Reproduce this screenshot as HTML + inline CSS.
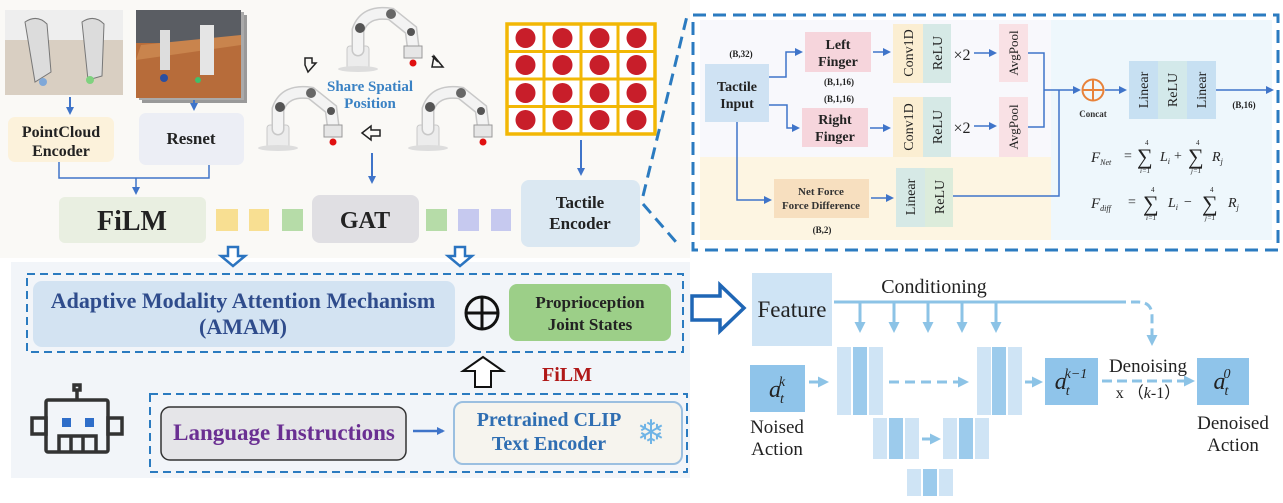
<!DOCTYPE html>
<html><head><meta charset="utf-8"><style>
html,body{margin:0;padding:0;background:#fff;}
svg{display:block;font-family:"Liberation Serif",serif;}
</style></head><body>
<svg width="1283" height="503" viewBox="0 0 1283 503" xmlns="http://www.w3.org/2000/svg">
<defs>
<marker id="ab" markerWidth="8" markerHeight="8" refX="6" refY="4" orient="auto" markerUnits="userSpaceOnUse"><path d="M0,0 L8,4 L0,8 Z" fill="#3f74c9"/></marker>
<marker id="al" markerWidth="11" markerHeight="11" refX="8" refY="5.5" orient="auto" markerUnits="userSpaceOnUse"><path d="M0,0 L11,5.5 L0,11 Z" fill="#8cc3e6"/></marker>
<g id="robot">
  <rect x="14" y="40" width="22" height="24" rx="3" fill="#ececec" stroke="#c9c9c9"/>
  <ellipse cx="25" cy="63" rx="20" ry="3" fill="#ddd"/>
  <path d="M25,44 L25,24 Q32,4 58,8 L78,24 L80,40" fill="none" stroke="#c8c8c8" stroke-width="13" stroke-linecap="round"/>
  <path d="M25,44 L25,24 Q32,4 58,8 L78,24 L80,40" fill="none" stroke="#f3f3f3" stroke-width="10" stroke-linecap="round"/>
  <circle cx="27" cy="22" r="5" fill="#555"/>
  <circle cx="58" cy="8" r="5" fill="#666"/>
  <circle cx="78" cy="26" r="4" fill="#555"/>
  <rect x="71" y="40" width="18" height="12" fill="#e6e6e6" stroke="#999"/>
  <circle cx="80" cy="57" r="3.5" fill="#e01010"/>
</g>
</defs>

<rect x="0" y="0" width="690" height="258" fill="#faf9f6"/>
<rect x="11" y="262" width="679" height="216" fill="#f2f5f9"/>

<!-- top left images -->
<rect x="5" y="10" width="118" height="85" fill="#d9cfc2"/>
<path d="M5,10 h118 v30 h-118z" fill="#eeeeee"/>
<path d="M25,22 q12,-8 22,2 l4,48 -16,10z" fill="#dcdcdc" stroke="#777"/>
<path d="M82,22 q12,-8 22,2 l-2,52 -14,4z" fill="#dcdcdc" stroke="#777"/>
<circle cx="43" cy="82" r="4" fill="#7fa8d8"/><circle cx="90" cy="80" r="4" fill="#7fd27f"/>
<rect x="142" y="15" width="105" height="88" fill="#999"/>
<rect x="139" y="12" width="105" height="88" fill="#aaa"/>
<rect x="136" y="10" width="105" height="88" fill="#b76c3a"/>
<rect x="136" y="10" width="105" height="33" fill="#5a5d63"/>
<path d="M141,45 L241,35 L241,45 L136,60z" fill="#c9844d"/>
<rect x="160" y="30" width="10" height="40" fill="#ddd"/><rect x="200" y="25" width="14" height="50" fill="#e5e5e5"/>
<circle cx="164" cy="78" r="4" fill="#2a4fa0"/><circle cx="198" cy="80" r="3" fill="#3fbf6a"/>

<line x1="70" y1="97" x2="70" y2="113" stroke="#3f74c9" stroke-width="2" marker-end="url(#ab)"/>
<line x1="194" y1="100" x2="194" y2="109" stroke="#3f74c9" stroke-width="2" marker-end="url(#ab)"/>

<rect x="8" y="117" width="106" height="45" rx="7" fill="#fcf2db"/>
<text x="61" y="137" font-size="16" font-weight="bold" text-anchor="middle" fill="#222">PointCloud</text>
<text x="61" y="156" font-size="16" font-weight="bold" text-anchor="middle" fill="#222">Encoder</text>
<rect x="139" y="113" width="105" height="52" rx="7" fill="#eceef5"/>
<text x="191" y="144" font-size="17" font-weight="bold" text-anchor="middle" fill="#222">Resnet</text>
<path d="M59,162 V178 H209 V165" fill="none" stroke="#3f74c9" stroke-width="1.5"/>
<line x1="136" y1="178" x2="136" y2="193" stroke="#3f74c9" stroke-width="1.5" marker-end="url(#ab)"/>

<rect x="59" y="197" width="147" height="46" rx="6" fill="#e9efe1"/>
<text x="132" y="230" font-size="28" font-weight="bold" text-anchor="middle" fill="#222">FiLM</text>
<rect x="216" y="209" width="22" height="22" fill="#f8df92"/>
<rect x="249" y="209" width="20" height="22" fill="#f8df92"/>
<rect x="282" y="209" width="21" height="22" fill="#b6dca8"/>
<rect x="312" y="195" width="107" height="48" rx="8" fill="#e0dfe3"/>
<text x="365" y="228" font-size="24" font-weight="bold" text-anchor="middle" fill="#222">GAT</text>
<rect x="426" y="209" width="21" height="22" fill="#b6dca8"/>
<rect x="458" y="209" width="21" height="22" fill="#c6c9ef"/>
<rect x="491" y="209" width="20" height="22" fill="#c6c9ef"/>
<rect x="521" y="180" width="119" height="67" rx="8" fill="#dbe8f2"/>
<text x="580" y="208" font-size="17" font-weight="bold" text-anchor="middle" fill="#222">Tactile</text>
<text x="580" y="229" font-size="17" font-weight="bold" text-anchor="middle" fill="#222">Encoder</text>

<!-- robots -->
<use href="#robot" x="333" y="6"/>
<use href="#robot" x="253" y="85"/>
<use href="#robot" x="403" y="85"/>
<path d="M308,72 l8,-9 -4,0 0,-5 h-7 v7z" fill="none" stroke="#222" stroke-width="1.5"/>
<path d="M434,56 l-2,11 11,0 z M432,56 l6,6" fill="none" stroke="#222" stroke-width="1.5"/>
<path d="M362,133 l9,-7 v4 h9 v6 h-9 v4z" fill="none" stroke="#222" stroke-width="1.5"/>
<text x="370" y="91" font-size="15" font-weight="bold" text-anchor="middle" fill="#3a82c4">Share Spatial</text>
<text x="370" y="108" font-size="15" font-weight="bold" text-anchor="middle" fill="#3a82c4">Position</text>
<line x1="372" y1="153" x2="372" y2="182" stroke="#3f74c9" stroke-width="2" marker-end="url(#ab)"/>

<!-- tactile grid -->
<rect x="507" y="24" width="148" height="110" fill="#fff" stroke="#f2b705" stroke-width="3.5"/>
<g stroke="#f2b705" stroke-width="3">
<line x1="544" y1="24" x2="544" y2="134"/><line x1="581" y1="24" x2="581" y2="134"/><line x1="618" y1="24" x2="618" y2="134"/>
<line x1="507" y1="51.5" x2="655" y2="51.5"/><line x1="507" y1="79" x2="655" y2="79"/><line x1="507" y1="106.5" x2="655" y2="106.5"/>
</g>
<g fill="#c81e2a">
<circle cx="525.5" cy="38" r="10"/><circle cx="562.5" cy="38" r="10"/><circle cx="599.5" cy="38" r="10"/><circle cx="636.5" cy="38" r="10"/>
<circle cx="525.5" cy="65" r="10"/><circle cx="562.5" cy="65" r="10"/><circle cx="599.5" cy="65" r="10"/><circle cx="636.5" cy="65" r="10"/>
<circle cx="525.5" cy="93" r="10"/><circle cx="562.5" cy="93" r="10"/><circle cx="599.5" cy="93" r="10"/><circle cx="636.5" cy="93" r="10"/>
<circle cx="525.5" cy="120" r="10"/><circle cx="562.5" cy="120" r="10"/><circle cx="599.5" cy="120" r="10"/><circle cx="636.5" cy="120" r="10"/>
</g>
<line x1="581" y1="140" x2="581" y2="174" stroke="#3f74c9" stroke-width="2" marker-end="url(#ab)"/>

<path d="M228,247 h10 v9 h7 l-12,10 -12,-10 h7z" fill="#fff" stroke="#2b74c0" stroke-width="2.5"/>
<path d="M455,247 h10 v9 h7 l-12,10 -12,-10 h7z" fill="#fff" stroke="#2b74c0" stroke-width="2.5"/>

<line x1="643" y1="196" x2="688" y2="12" stroke="#2b7bc0" stroke-width="3" stroke-dasharray="12,7"/>
<line x1="643" y1="204" x2="676" y2="242" stroke="#2b7bc0" stroke-width="3" stroke-dasharray="12,7"/>

<!-- detail panel -->
<rect x="700" y="20" width="351" height="137" fill="#f8f8fc"/>
<rect x="700" y="157" width="351" height="83" fill="#fdf5e2"/>
<rect x="1051" y="20" width="221" height="220" fill="#eef7fc"/>
<rect x="693" y="15" width="585" height="235" fill="none" stroke="#2b7bc0" stroke-width="3" stroke-dasharray="13,7"/>

<text x="741" y="57" font-size="9" font-weight="bold" text-anchor="middle" fill="#222">(B,32)</text>
<rect x="705" y="64" width="64" height="58" fill="#cfe2f3"/>
<text x="737" y="91" font-size="14" font-weight="bold" text-anchor="middle" fill="#222">Tactile</text>
<text x="737" y="108" font-size="14" font-weight="bold" text-anchor="middle" fill="#222">Input</text>
<rect x="805" y="32" width="66" height="40" fill="#f6d5dc"/>
<text x="838" y="49" font-size="14" font-weight="bold" text-anchor="middle" fill="#222">Left</text>
<text x="838" y="66" font-size="14" font-weight="bold" text-anchor="middle" fill="#222">Finger</text>
<text x="839" y="85" font-size="9" font-weight="bold" text-anchor="middle" fill="#222">(B,1,16)</text>
<text x="839" y="102" font-size="9" font-weight="bold" text-anchor="middle" fill="#222">(B,1,16)</text>
<rect x="802" y="108" width="66" height="39" fill="#f6d5dc"/>
<text x="835" y="124" font-size="14" font-weight="bold" text-anchor="middle" fill="#222">Right</text>
<text x="835" y="141" font-size="14" font-weight="bold" text-anchor="middle" fill="#222">Finger</text>
<path d="M769,77 H786 V52 H801" fill="none" stroke="#3f74c9" stroke-width="1.5" marker-end="url(#ab)"/>
<path d="M769,105 H787 V128 H798" fill="none" stroke="#3f74c9" stroke-width="1.5" marker-end="url(#ab)"/>
<path d="M737,122 V200 H770" fill="none" stroke="#3f74c9" stroke-width="1.5" marker-end="url(#ab)"/>

<g font-size="14" fill="#222">
<rect x="893" y="24" width="30" height="59" fill="#fbeed2"/><rect x="923" y="24" width="28" height="59" fill="#d6e9e6"/>
<text transform="translate(913,53) rotate(-90)" text-anchor="middle">Conv1D</text>
<text transform="translate(942,53) rotate(-90)" text-anchor="middle">ReLU</text>
<rect x="893" y="97" width="30" height="60" fill="#fbeed2"/><rect x="923" y="97" width="28" height="60" fill="#d6e9e6"/>
<text transform="translate(913,127) rotate(-90)" text-anchor="middle">Conv1D</text>
<text transform="translate(942,127) rotate(-90)" text-anchor="middle">ReLU</text>
<rect x="999" y="24" width="29" height="58" fill="#f9e1e5"/>
<text transform="translate(1018,53) rotate(-90)" text-anchor="middle" font-size="13">AvgPool</text>
<rect x="999" y="97" width="29" height="60" fill="#f9e1e5"/>
<text transform="translate(1018,127) rotate(-90)" text-anchor="middle" font-size="13">AvgPool</text>
<text x="962" y="60" font-size="16" text-anchor="middle">×2</text>
<text x="962" y="133" font-size="16" text-anchor="middle">×2</text>
</g>
<line x1="873" y1="52" x2="889" y2="52" stroke="#3f74c9" stroke-width="1.5" marker-end="url(#ab)"/>
<line x1="870" y1="128" x2="889" y2="128" stroke="#3f74c9" stroke-width="1.5" marker-end="url(#ab)"/>
<line x1="974" y1="53" x2="995" y2="53" stroke="#3f74c9" stroke-width="1.5" marker-end="url(#ab)"/>
<line x1="974" y1="126" x2="995" y2="126" stroke="#3f74c9" stroke-width="1.5" marker-end="url(#ab)"/>
<path d="M1028,53 H1044 V127 H1028" fill="none" stroke="#3f74c9" stroke-width="1.5"/>
<line x1="1044" y1="90" x2="1079" y2="90" stroke="#3f74c9" stroke-width="1.5" marker-end="url(#ab)"/>
<path d="M953,196 H1059 V90" fill="none" stroke="#3f74c9" stroke-width="1.5"/>

<rect x="774" y="179" width="95" height="39" fill="#f7dfbf"/>
<text x="821" y="195" font-size="11" font-weight="bold" text-anchor="middle" fill="#333">Net Force</text>
<text x="821" y="209" font-size="11" font-weight="bold" text-anchor="middle" fill="#333">Force Difference</text>
<text x="822" y="233" font-size="9" font-weight="bold" text-anchor="middle" fill="#222">(B,2)</text>
<line x1="871" y1="198" x2="892" y2="198" stroke="#3f74c9" stroke-width="1.5" marker-end="url(#ab)"/>
<rect x="896" y="168" width="29" height="59" fill="#d6e9e6"/><rect x="925" y="168" width="28" height="59" fill="#dcecdb"/>
<text transform="translate(915,197) rotate(-90)" text-anchor="middle" font-size="14" fill="#222">Linear</text>
<text transform="translate(944,197) rotate(-90)" text-anchor="middle" font-size="14" fill="#222">ReLU</text>

<circle cx="1093" cy="90" r="10.5" fill="none" stroke="#e8823a" stroke-width="2"/>
<line x1="1082.5" y1="90" x2="1103.5" y2="90" stroke="#e8823a" stroke-width="2"/>
<line x1="1093" y1="79.5" x2="1093" y2="100.5" stroke="#e8823a" stroke-width="2"/>
<text x="1093" y="117" font-size="9" font-weight="bold" text-anchor="middle" fill="#333">Concat</text>
<line x1="1105" y1="90" x2="1125" y2="90" stroke="#3f74c9" stroke-width="1.5" marker-end="url(#ab)"/>
<rect x="1129" y="61" width="29" height="58" fill="#c7e0f2"/><rect x="1158" y="61" width="29" height="58" fill="#d3e9ea"/><rect x="1187" y="61" width="29" height="58" fill="#c7e0f2"/>
<g font-size="14" fill="#222" text-anchor="middle">
<text transform="translate(1148,90) rotate(-90)">Linear</text>
<text transform="translate(1177,90) rotate(-90)">ReLU</text>
<text transform="translate(1206,90) rotate(-90)">Linear</text>
</g>
<line x1="1216" y1="90" x2="1272" y2="90" stroke="#3f74c9" stroke-width="1.5" marker-end="url(#ab)"/>
<text x="1244" y="108" font-size="9" font-weight="bold" text-anchor="middle" fill="#222">(B,16)</text>

<g fill="#222" font-style="italic">
<text x="1091" y="162" font-size="15">F<tspan font-size="8" dy="3">Net</tspan></text>
<text x="1124" y="160" font-size="14" font-style="normal">=</text>
<text x="1137" y="164" font-size="22" font-style="normal">∑</text>
<text x="1145" y="145" font-size="7" font-style="normal">4</text><text x="1140" y="173" font-size="7">i=1</text>
<text x="1160" y="161" font-size="14">L<tspan font-size="8" dy="3">i</tspan></text>
<text x="1174" y="160" font-size="14" font-style="normal">+</text>
<text x="1188" y="164" font-size="22" font-style="normal">∑</text>
<text x="1196" y="145" font-size="7" font-style="normal">4</text><text x="1191" y="173" font-size="7">j=1</text>
<text x="1212" y="161" font-size="14">R<tspan font-size="8" dy="3">j</tspan></text>

<text x="1091" y="208" font-size="15">F<tspan font-size="8" dy="3">diff</tspan></text>
<text x="1128" y="206" font-size="14" font-style="normal">=</text>
<text x="1143" y="211" font-size="22" font-style="normal">∑</text>
<text x="1151" y="192" font-size="7" font-style="normal">4</text><text x="1146" y="220" font-size="7">i=1</text>
<text x="1168" y="207" font-size="14">L<tspan font-size="8" dy="3">i</tspan></text>
<text x="1184" y="206" font-size="14" font-style="normal">−</text>
<text x="1202" y="211" font-size="22" font-style="normal">∑</text>
<text x="1210" y="192" font-size="7" font-style="normal">4</text><text x="1205" y="220" font-size="7">j=1</text>
<text x="1228" y="207" font-size="14">R<tspan font-size="8" dy="3">j</tspan></text>
</g>

<!-- bottom left -->
<rect x="27" y="274" width="656" height="78" fill="none" stroke="#2b7bc0" stroke-width="2" stroke-dasharray="8,5"/>
<rect x="33" y="281" width="422" height="66" rx="9" fill="#d3e3f2"/>
<text x="243" y="308" font-size="22" font-weight="bold" text-anchor="middle" fill="#2f4c8c">Adaptive Modality Attention Mechanism</text>
<text x="243" y="334" font-size="22" font-weight="bold" text-anchor="middle" fill="#2f4c8c">(AMAM)</text>
<circle cx="482" cy="313" r="16" fill="none" stroke="#111" stroke-width="3"/>
<line x1="466" y1="313" x2="498" y2="313" stroke="#111" stroke-width="3"/>
<line x1="482" y1="297" x2="482" y2="329" stroke="#111" stroke-width="3"/>
<rect x="509" y="284" width="162" height="57" rx="8" fill="#9ccf88"/>
<text x="590" y="308" font-size="17" font-weight="bold" text-anchor="middle" fill="#222">Proprioception</text>
<text x="590" y="330" font-size="17" font-weight="bold" text-anchor="middle" fill="#222">Joint States</text>
<path d="M475,387 v-16 h-12 l20,-14 20,14 h-12 v16z" fill="#fff" stroke="#111" stroke-width="2"/>
<text x="567" y="381" font-size="20" font-weight="bold" text-anchor="middle" fill="#b01818">FiLM</text>

<rect x="150" y="394" width="537" height="78" fill="none" stroke="#2b7bc0" stroke-width="2" stroke-dasharray="8,5"/>
<rect x="161" y="407" width="245" height="53" rx="9" fill="#e5e5e8" stroke="#333" stroke-width="1.5"/>
<text x="284" y="440" font-size="23" font-weight="bold" text-anchor="middle" fill="#6a2f92">Language Instructions</text>
<line x1="413" y1="431" x2="443" y2="431" stroke="#3f74c9" stroke-width="2.5" marker-end="url(#ab)"/>
<rect x="454" y="402" width="228" height="62" rx="9" fill="#f6f4ee" stroke="#9bbfe0" stroke-width="2"/>
<text x="549" y="426" font-size="20" font-weight="bold" text-anchor="middle" fill="#2f6eb2">Pretrained CLIP</text>
<text x="549" y="450" font-size="20" font-weight="bold" text-anchor="middle" fill="#2f6eb2">Text Encoder</text>
<text x="651" y="444" font-size="34" text-anchor="middle" fill="#6fb4e6">❄</text>

<!-- robot icon -->
<g fill="none" stroke="#333" stroke-width="3.5">
<line x1="77" y1="390" x2="77" y2="400"/>
<rect x="74" y="385" width="6" height="5"/>
<rect x="46" y="400" width="62" height="52" rx="2"/>
<rect x="32" y="418" width="14" height="16"/>
<rect x="108" y="418" width="14" height="16"/>
<path d="M59,452 V436 H96 V452 M71,436 V452 M83,436 V452"/>
</g>
<rect x="62" y="418" width="9" height="9" fill="#2f6ec9"/>
<rect x="85" y="418" width="9" height="9" fill="#2f6ec9"/>

<!-- diffusion -->
<path d="M692,296 h28 v-11 l24,23 -24,23 v-11 h-28z" fill="#fff" stroke="#1f66b5" stroke-width="3.5"/>
<rect x="752" y="273" width="80" height="73" fill="#cfe4f5"/>
<text x="792" y="317" font-size="23" text-anchor="middle" fill="#222">Feature</text>
<text x="934" y="293" font-size="20" text-anchor="middle" fill="#222">Conditioning</text>
<line x1="834" y1="302" x2="1117" y2="302" stroke="#8cc3e6" stroke-width="3"/>
<path d="M1117,302 H1138 Q1152,302 1152,316 V343" fill="none" stroke="#8cc3e6" stroke-width="3" stroke-dasharray="9,5" marker-end="url(#al)"/>
<g stroke="#8cc3e6" stroke-width="3">
<line x1="860" y1="302" x2="860" y2="330" marker-end="url(#al)"/>
<line x1="894" y1="302" x2="894" y2="330" marker-end="url(#al)"/>
<line x1="928" y1="302" x2="928" y2="330" marker-end="url(#al)"/>
<line x1="962" y1="302" x2="962" y2="330" marker-end="url(#al)"/>
<line x1="996" y1="302" x2="996" y2="330" marker-end="url(#al)"/>
</g>
<rect x="750" y="365" width="55" height="47" fill="#8fc4ea"/>
<text x="777" y="397" font-size="24" font-style="italic" text-anchor="middle" fill="#222">a<tspan font-size="14" dy="6" dx="-1">t</tspan><tspan font-size="14" dy="-17" dx="-5">k</tspan></text>
<text x="777" y="433" font-size="19" text-anchor="middle" fill="#222">Noised</text>
<text x="777" y="455" font-size="19" text-anchor="middle" fill="#222">Action</text>
<line x1="809" y1="382" x2="826" y2="382" stroke="#8cc3e6" stroke-width="3" marker-end="url(#al)"/>

<g>
<rect x="837" y="347" width="14" height="68" fill="#cfe4f5"/><rect x="853" y="347" width="14" height="68" fill="#9ccbec"/><rect x="869" y="347" width="14" height="68" fill="#cfe4f5"/>
<rect x="977" y="347" width="14" height="68" fill="#cfe4f5"/><rect x="992" y="347" width="14" height="68" fill="#9ccbec"/><rect x="1008" y="347" width="14" height="68" fill="#cfe4f5"/>
<rect x="873" y="418" width="14" height="41" fill="#cfe4f5"/><rect x="889" y="418" width="14" height="41" fill="#9ccbec"/><rect x="905" y="418" width="14" height="41" fill="#cfe4f5"/>
<rect x="943" y="418" width="14" height="41" fill="#cfe4f5"/><rect x="959" y="418" width="14" height="41" fill="#9ccbec"/><rect x="975" y="418" width="14" height="41" fill="#cfe4f5"/>
<rect x="907" y="469" width="14" height="27" fill="#cfe4f5"/><rect x="923" y="469" width="14" height="27" fill="#9ccbec"/><rect x="939" y="469" width="14" height="27" fill="#cfe4f5"/>
</g>
<line x1="889" y1="382" x2="966" y2="382" stroke="#8cc3e6" stroke-width="3" stroke-dasharray="10,6" marker-end="url(#al)"/>
<line x1="922" y1="439" x2="938" y2="439" stroke="#8cc3e6" stroke-width="3" marker-end="url(#al)"/>
<line x1="1025" y1="382" x2="1040" y2="382" stroke="#8cc3e6" stroke-width="3" marker-end="url(#al)"/>
<rect x="1045" y="358" width="53" height="47" fill="#8fc4ea"/>
<text x="1071" y="389" font-size="24" font-style="italic" text-anchor="middle" fill="#222">a<tspan font-size="14" dy="6" dx="-1">t</tspan><tspan font-size="14" dy="-17" dx="-5">k−1</tspan></text>
<text x="1148" y="372" font-size="19" text-anchor="middle" fill="#222">Denoising</text>
<text x="1148" y="398" font-size="16" text-anchor="middle" fill="#222">x （<tspan font-style="italic">k</tspan>-1）</text>
<line x1="1102" y1="381" x2="1192" y2="381" stroke="#8cc3e6" stroke-width="3" stroke-dasharray="10,5" marker-end="url(#al)"/>
<rect x="1197" y="358" width="52" height="47" fill="#8fc4ea"/>
<text x="1222" y="389" font-size="24" font-style="italic" text-anchor="middle" fill="#222">a<tspan font-size="14" dy="6" dx="-1">t</tspan><tspan font-size="14" dy="-17" dx="-5">0</tspan></text>
<text x="1233" y="429" font-size="19" text-anchor="middle" fill="#222">Denoised</text>
<text x="1233" y="451" font-size="19" text-anchor="middle" fill="#222">Action</text>
</svg>
</body></html>
